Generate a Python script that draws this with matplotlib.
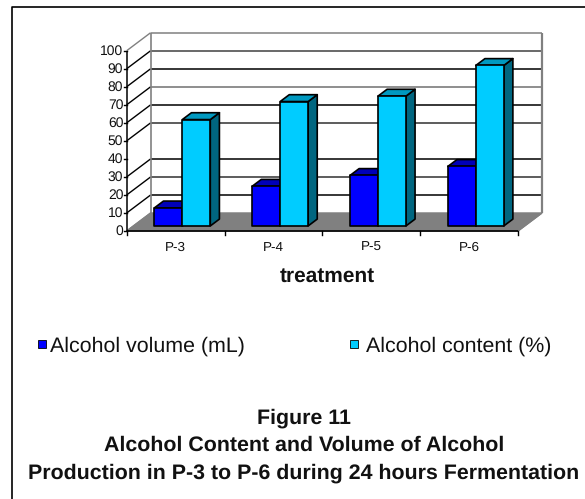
import matplotlib
matplotlib.use("Agg")
import matplotlib.pyplot as plt
from matplotlib.patches import Polygon, Rectangle

categories = ["P-3", "P-4", "P-5", "P-6"]
alcohol_volume = [10, 22, 28, 33]
alcohol_content = [59, 69, 72, 89]
y_ticks = [0, 10, 20, 30, 40, 50, 60, 70, 80, 90, 100]
# gridline shade per tick on the back wall; 40 has no line
grid_shades = {10: "#000000", 20: "#303030", 30: "#000000", 50: "#303030",
               60: "#000000", 70: "#707070", 80: "#000000", 90: "#404040", 100: "#808080"}

W, H = 585, 499
DEPTH_X = 0.245   # oblique shift of the full depth, in category units
DEPTH_Y = 10.0    # oblique shift of the full depth, in value units
BAR_W = 0.286
NEAR, FAR = 0.28, 0.66

plt.rcParams["font.family"] = ["Liberation Sans", "DejaVu Sans"]
plt.rcParams["text.hinting"] = "no_hinting"
fig = plt.figure(figsize=(W / 100, H / 100), dpi=100)
ax = fig.add_axes([126.7 / W, 1 - 231 / H, (518 - 126.7) / W, (231 - 50.7) / H])
ax.set_xlim(0, 4)
ax.set_ylim(0, 100)
ax.axis("off")


def oblique(x, y, depth):
    return (x + depth * DEPTH_X, y + depth * DEPTH_Y)


def face(points, **kw):
    ax.add_patch(Polygon(points, closed=True, clip_on=False, **kw))


def line(p, q, color, lw=1.0, z=2):
    ax.plot([p[0], q[0]], [p[1], q[1]], color=color, lw=lw, clip_on=False,
            solid_capstyle="butt", zorder=z)


# floor
face([oblique(0, 0, 0), oblique(4, 0, 0), oblique(4, 0, 1), oblique(0, 0, 1)],
     facecolor="#808080", edgecolor="#808080", lw=1, zorder=1)

# walls and gridlines
for t in y_ticks:
    if t == 0 or t == 40:
        continue
    c = grid_shades[t]
    line(oblique(0, t, 1), oblique(4, t, 1), c, 1.1)
    line(oblique(0, t, 0), oblique(0, t, 1), "#808080" if t == 100 else "#000000", 1.0)
line(oblique(0, 0, 0), oblique(0, 0, 1), "#808080", 1.0)
line(oblique(0, 0, 1), oblique(0, 100, 1), "#808080", 1.2)
line(oblique(4, 0, 1), oblique(4, 100, 1), "#808080", 1.6)
line(oblique(4, 0, 0), oblique(4, 0, 1), "#808080", 1.0)

# front axes with tick marks
line((0, 0), (0, 100), "#000000", 1.1, z=3)
line((0, 0), (4, 0), "#000000", 1.2, z=3)
ax.set_xticks([])
for t in y_ticks:
    ax.plot([-0.03, 0], [t, t], color="#000000", lw=1, clip_on=False, zorder=3)
    ax.text(-0.035, t - 0.3, str(t), ha="right", va="center", fontsize=10, color="#111111")
for i in range(5):
    ax.plot([i, i], [0, -2], color="#000000", lw=1, clip_on=False, zorder=3)
for i, name in enumerate(categories):
    ax.text(i + 0.5, -9, name, ha="center", va="center", fontsize=9.7, color="#111111")


def bar3d(x, value, front, top, side, z):
    x0, x1 = x, x + BAR_W
    edge = dict(edgecolor="#000000", lw=1.2, joinstyle="round", zorder=z)
    face([oblique(x1, 0, NEAR), oblique(x1, 0, FAR), oblique(x1, value, FAR),
          oblique(x1, value, NEAR)], facecolor=side, **edge)
    face([oblique(x0, value, NEAR), oblique(x1, value, NEAR), oblique(x1, value, FAR),
          oblique(x0, value, FAR)], facecolor=top, **edge)
    face([oblique(x0, 0, NEAR), oblique(x1, 0, NEAR), oblique(x1, value, NEAR),
          oblique(x0, value, NEAR)], facecolor=front, **edge)


for i, (vol, pct) in enumerate(zip(alcohol_volume, alcohol_content)):
    left = i + 0.5 - BAR_W
    bar3d(left, vol, "#0000FF", "#0000B8", "#000099", 4 + i)
    bar3d(left + BAR_W, pct, "#00CCFF", "#0099C0", "#006680", 4.5 + i)


# text in pixel positions of the figure
def put(x, y, s, **kw):
    fig.text(x / W, 1 - y / H, s, va="center", color="#111111", **kw)


put(327, 276, "treatment", ha="center", fontsize=15, fontweight="bold")
put(50, 346.5, "Alcohol volume (mL)", ha="left", fontsize=15.4)
put(366, 346.5, "Alcohol content (%)", ha="left", fontsize=15.4)
fig.add_artist(Rectangle((38 / W, 1 - 348 / H), 8 / W, 8 / H, transform=fig.transFigure,
                         facecolor="#0000FF", edgecolor="#000000", lw=0.6))
fig.add_artist(Rectangle((349.5 / W, 1 - 348 / H), 8 / W, 8 / H, transform=fig.transFigure,
                         facecolor="#00CCFF", edgecolor="#000000", lw=0.6))
put(304, 418, "Figure 11", ha="center", fontsize=15.4, fontweight="bold")
put(304, 445, "Alcohol Content and Volume of Alcohol", ha="center", fontsize=15.4, fontweight="bold")
put(304, 473, "Production in P-3 to P-6 during 24 hours Fermentation", ha="center", fontsize=15.4,
    fontweight="bold")

# outer frame: left and top edges only
fig.add_artist(plt.Line2D([11.5 / W, 11.5 / W, 1], [0, 1 - 7 / H, 1 - 7 / H], color="#000000",
                          lw=1.2, transform=fig.transFigure))

fig.savefig("out.png", dpi=100, facecolor="white")
